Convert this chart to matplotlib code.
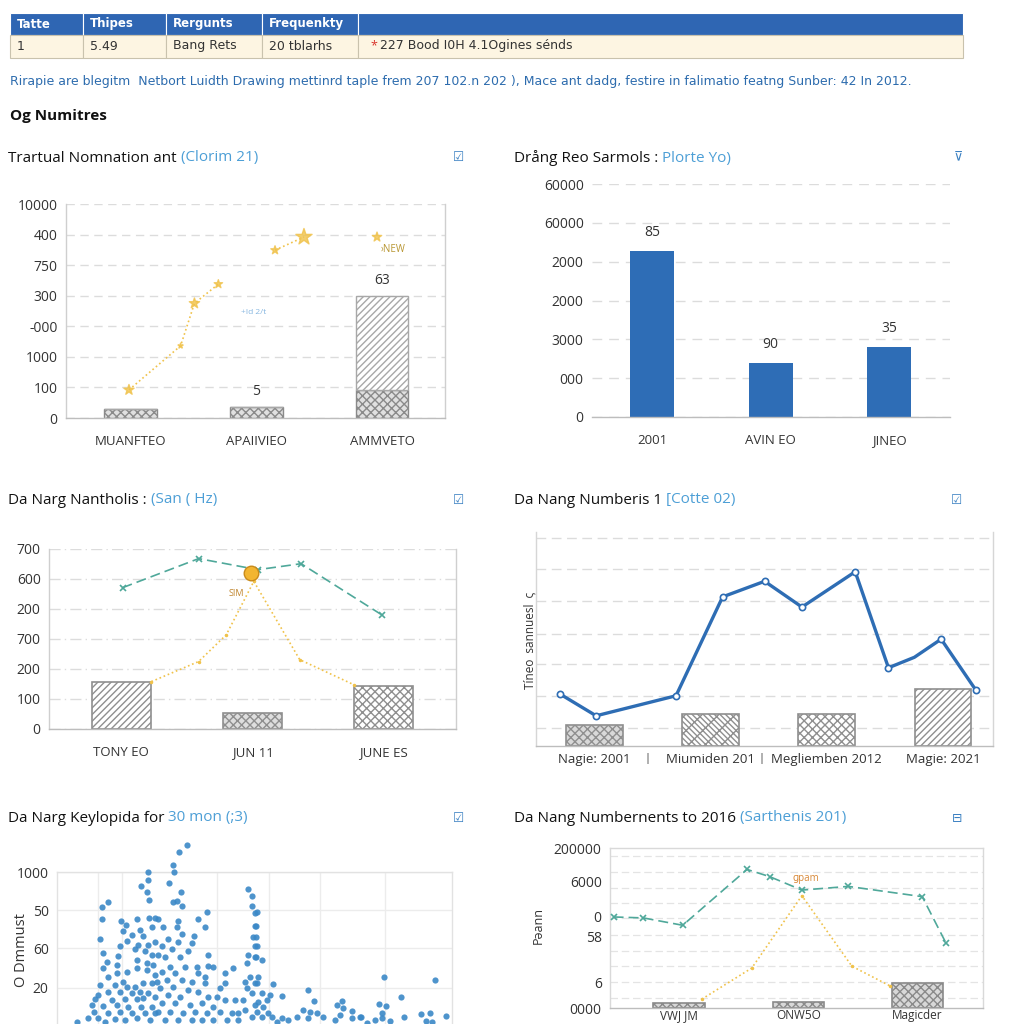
import matplotlib
matplotlib.use("Agg")
import matplotlib.pyplot as plt
from matplotlib.patches import Rectangle

plt.rcParams['font.family'] = ['Open Sans', 'DejaVu Sans']

# --- dati ---
TABLE_HEAD = ["Tatte", "Thipes", "Rergunts", "Frequenkty", ""]
TABLE_ROW = ["1", "5.49", "Bang Rets", "20 tblarhs", "227 Bood I0H 4.1Ogines sénds"]
NOTE = ("Rirapie are blegitm  Netbort Luidth Drawing mettinrd taple frem 207 102.n 202 ), "
        "Mace ant dadg, festire in falimatio featng Sunber: 42 In 2012.")
SECTION = "Og Numitres"

TITLES = [("Trartual Nomnation ant ", "(Clorim 21)"),
          ("Drång Reo Sarmols : ", "Plorte Yo)"),
          ("Da Narg Nantholis : ", "(San ( Hz)"),
          ("Da Nang Numberis 1 ", "[Cotte 02)"),
          ("Da Narg Keylopida for ", "30 mon (;3)"),
          ("Da Nang Numbernents to 2016 ", "(Sarthenis 201)")]
ICONS = ["☑", "⊽", "☑", "☑", "☑", "⊟"]

# pannello 1
p1_cats = ["MUANFTEO", "APAIIVIEO", "AMMVETO"]
p1_ticks = ["0", "100", "1000", "-000", "300", "750", "400", "10000"]
p1_base = [0.30, 0.37, 0.90]
p1_upper = [0.0, 0.0, 3.09]
p1_labels = ["", "5", "63"]
p1_star_x = [-0.01, 0.40, 0.51, 0.70, 1.15, 1.38, 1.96]
p1_star_y = [0.92, 2.36, 3.75, 4.38, 5.49, 5.92, 5.92]

# pannello 2
p2_cats = ["2001", "AVIN EO", "JINEO"]
p2_vals = [4.28, 1.40, 1.81]
p2_labels = ["85", "90", "35"]
p2_ticks = ["0", "000", "3000", "2000", "2000", "60000", "60000"]

# pannello 3
p3_cats = ["TONY EO", "JUN 11", "JUNE ES"]
p3_bars = [1.57, 0.53, 1.44]
p3_ticks = ["0", "100", "200", "700", "200", "600", "700"]
p3_teal_x = [0.01, 0.59, 1.04, 1.37, 1.99]
p3_teal_y = [4.71, 5.68, 5.31, 5.51, 3.79]
p3_yel_x = [0.23, 0.59, 0.80, 1.01, 1.36, 1.77]
p3_yel_y = [1.58, 2.25, 3.14, 4.92, 2.31, 1.48]
p3_peak = (0.99, 5.21)

# pannello 4
p4_cats = ["Nagie: 2001", "Miumiden 201", "Megliemben 2012", "Magie: 2021"]
p4_bars = [0.66, 1.0, 1.0, 1.79]
p4_x = [-0.296, 0.017, 0.704, 1.105, 1.466, 1.787, 2.245, 2.531, 2.754, 2.984, 3.282]
p4_y = [1.64, 0.95, 1.58, 4.69, 5.18, 4.37, 5.48, 2.46, 2.79, 3.36, 1.76]
p4_grid = [0.57, 1.57, 2.58, 3.52, 4.56, 5.57, 6.54]

# pannello 5 (scatter)
p5_x = [91, 91, 84, 90, 92, 51, 45, 45, 64, 80, 92, 98, 69, 66, 83, 95, 75, 86, 43, 70,
        63, 81, 91, 98, 46, 61, 78, 88, 95, 50, 80, 90, 96, 60, 46, 60, 70, 80, 90, 51,
        98, 66, 58, 43, 70, 78, 86, 95, 100, 51, 63, 75, 83, 91, 41, 38, 55, 68, 80, 86,
        98, 35, 46, 60, 71, 84, 95, 37, 51, 63, 75, 88, 98, 31, 41, 58, 68, 80, 93, 20,
        48,
        130, 122, 116, 117, 112, 124, 120, 125, 116, 150, 141, 121, 101, 120, 148, 106, 125, 137, 111, 121,
        135, 105, 115, 131, 151, 108, 123, 101, 113, 128, 140, 151, 156, 105, 118, 141, 148, 168, 176, 110,
        125, 135, 148, 163, 168, 116, 103, 131, 141, 111, 123, 151, 160, 178, 168, 105, 118, 133, 145, 156,
        101, 113, 126, 138, 150, 163, 175, 108, 121, 135, 145, 156, 170, 181,
        191, 195, 195, 198, 198, 196, 198, 191, 198, 190, 193, 188, 198, 190, 195, 186, 198, 188, 181, 195,
        200, 199, 199, 200, 199, 205, 201, 200, 216, 205, 213, 210, 225, 201, 206, 200, 211, 205, 215, 225,
        220, 231, 240, 246, 251, 257, 253, 260, 266, 251, 278, 280, 285, 286, 283, 295, 295, 303,
        327, 378, 344, 322, 329, 325, 304, 318, 325, 333, 347, 364, 373, 369, 389, 310, 375]
p5_y = [153, 145, 139, 133, 125, 123, 118, 106, 104, 106, 107, 107, 100, 94, 95, 98, 90, 89, 86, 84,
        79, 80, 80, 83, 73, 70, 76, 74, 71, 64, 66, 63, 61, 61, 58, 53, 54, 58, 56, 49,
        51, 44, 41, 41, 39, 39, 43, 43, 44, 34, 34, 33, 34, 33, 31, 27, 26, 27, 27, 28,
        29, 21, 20, 21, 19, 19, 19, 14, 13, 14, 13, 13, 13, 8, 8, 7, 6, 8, 6, 4,
        4,
        180, 173, 160, 153, 142, 133, 124, 119, 123, 113, 106, 104, 106, 98, 98, 98, 91, 89, 86, 83,
        82, 79, 76, 74, 71, 69, 69, 71, 59, 59, 59, 60, 59, 54, 53, 53, 49, 53, 58, 46,
        46, 44, 43, 38, 43, 39, 38, 36, 34, 31, 29, 29, 29, 26, 26, 23, 23, 21, 23, 19,
        14, 14, 13, 14, 13, 14, 13, 6, 6, 6, 6, 6, 6, 6,
        136, 129, 119, 112, 99, 88, 79, 71, 69, 63, 49, 44, 43, 38, 33, 26, 21, 16, 13, 9,
        113, 99, 88, 79, 69, 66, 49, 43, 42, 33, 31, 26, 30, 24, 19, 14, 13, 9, 9, 8,
        4, 6, 9, 16, 36, 25, 14, 13, 9, 8, 6, 21, 25, 18, 11, 15, 8, 9,
        49, 46, 29, 22, 20, 13, 9, 6, 8, 5, 9, 12, 13, 5, 10, 3, 4]
p5_ticks_pos = [0, 38, 77, 115, 153]
p5_ticks = ["", "20", "60", "50", "1000"]

# pannello 6
p6_cats = ["VWJ JM", "ONW5O", "Magicder"]
p6_bars = [0.31, 0.39, 1.58]
p6_ticks_pos = [0, 1.58, 4.46, 5.69, 7.88, 10]
p6_ticks = ["0000", "6", "58", "0", "6000", "200000"]
p6_grid = [0.65, 1.6, 2.6, 3.55, 4.55, 5.6, 6.55, 7.5, 8.5, 9.5]
p6_teal_x = [-0.55, -0.30, 0.03, 0.57, 0.76, 1.03, 1.42, 2.04, 2.24]
p6_teal_y = [5.69, 5.63, 5.17, 8.66, 8.21, 7.37, 7.60, 6.96, 4.05]
p6_yel_x = [0.19, 0.61, 1.03, 1.45, 1.77]
p6_yel_y = [0.55, 2.50, 7.02, 2.61, 1.38]

# --- colori ---
BLU = '#2f66b3'
AZZURRO = '#4d9fd6'
TEAL = '#4fa89a'
GIALLO = '#f0c24a'
GRID = '#dcdcdc'
TXT = '#333333'

fig = plt.figure(figsize=(10.24, 10.24), dpi=100)
fig.patch.set_facecolor('white')

bg = fig.add_axes([0, 0, 1, 1])
bg.set_xlim(0, 1024)
bg.set_ylim(1024, 0)
bg.axis('off')

# --- tabella ---
cols = [10, 83, 166, 262, 358, 963]
for i in range(5):
    bg.add_patch(Rectangle((cols[i], 13), cols[i + 1] - cols[i], 22, fc=BLU, ec='white', lw=0.8))
    bg.add_patch(Rectangle((cols[i], 35), cols[i + 1] - cols[i], 23, fc='#fdf5e2', ec='#c9c2ad', lw=0.8))
    bg.text(cols[i] + 7, 24, TABLE_HEAD[i], color='white', fontsize=8.5, fontweight='bold',
            va='center', family=['Liberation Sans Narrow', 'DejaVu Sans Condensed'])
    xt = cols[i] + 7 if i < 4 else cols[i] + 22
    bg.text(xt, 46, TABLE_ROW[i], color=TXT, fontsize=9, va='center',
            family=['Liberation Sans Narrow', 'DejaVu Sans Condensed'])
bg.text(cols[4] + 12, 46, "*", color='#d9342b', fontsize=9, va='center')

bg.text(10, 82, NOTE, color='#2d6cae', fontsize=9, va='center',
        family=['Liberation Sans Narrow', 'DejaVu Sans Condensed'])
bg.text(10, 116, SECTION, color='#111111', fontsize=11, fontweight='bold', va='center')

# --- titoli pannelli ---
title_pos = [(8, 158), (514, 158), (8, 500), (514, 500), (8, 818), (514, 818)]
icon_pos = [(459, 157), (958, 157), (459, 500), (957, 500), (459, 818), (957, 818)]
for (t1, t2), (x, y), ic, (ix, iy) in zip(TITLES, title_pos, ICONS, icon_pos):
    tt = bg.text(x, y, t1, color='#111111', fontsize=11, va='center')
    bg.annotate(t2, xy=(1, 0), xycoords=tt, va='bottom', ha='left', color=AZZURRO, fontsize=11)
    bg.text(ix, iy, ic, color='#3a80c2', fontsize=9, ha='center', va='center',
            family=['DejaVu Sans'])


def box(l, t, r, b):
    return [l / 1024, 1 - b / 1024, (r - l) / 1024, (b - t) / 1024]


def stile(ax, spine_col='#cfcfcf'):
    ax.set_facecolor('none')
    for s in ax.spines.values():
        s.set_color(spine_col)
        s.set_linewidth(1)
    ax.spines['bottom'].set_color('#bdbdbd')
    ax.tick_params(length=0, labelsize=10, colors=TXT, pad=6)


# --- pannello 1 ---
ax1 = fig.add_axes(box(66, 204, 445, 418))
stile(ax1)
ax1.spines['top'].set_visible(False)
ax1.set_xlim(-0.51, 2.5)
ax1.set_ylim(0, 7)
ax1.set_yticks(range(len(p1_ticks)))
ax1.set_yticklabels(p1_ticks)
ax1.grid(axis='y', color=GRID, ls=(0, (6, 4)), lw=1)
ax1.set_axisbelow(True)
xs = range(len(p1_cats))
ax1.bar(xs, p1_base, width=0.42, color='#e0e0e0', edgecolor='#8a8a8a', hatch='xxxx', lw=1)
ax1.bar(xs, p1_upper, bottom=p1_base, width=0.42, color='white', edgecolor='#a8a8a8', hatch='/////', lw=1)
for x, b, u, lab in zip(xs, p1_base, p1_upper, p1_labels):
    ax1.text(x, b + u + 0.25, lab, ha='center', va='bottom', fontsize=10, color=TXT)
ax1.set_xticks(list(xs))
ax1.set_xticklabels(p1_cats, fontsize=9.5)
ax1.tick_params(axis='x', pad=12)
ax1.plot(p1_star_x[:4], p1_star_y[:4], ls=':', lw=1.2, color=GIALLO)
ax1.plot(p1_star_x[4:6], p1_star_y[4:6], ls=':', lw=1.2, color=GIALLO)
ax1.scatter(p1_star_x, p1_star_y, marker='*', s=[60, 15, 60, 40, 40, 150, 50], color=GIALLO,
            zorder=4, alpha=0.8)
ax1.text(p1_star_x[6] + 0.03, p1_star_y[6] - 0.4, "›NEW", color='#b89632', fontsize=7, va='center')
ax1.text(0.98, 3.46, "+Id 2/t", color='#86b6e0', fontsize=6, ha='center', va='center')

# --- pannello 2 ---
ax2 = fig.add_axes(box(592, 184, 950, 417))
stile(ax2)
for s in ['top', 'left', 'right']:
    ax2.spines[s].set_visible(False)
ax2.set_xlim(-0.505, 2.51)
ax2.set_ylim(0, 6)
ax2.set_yticks(range(len(p2_ticks)))
ax2.set_yticklabels(p2_ticks)
ax2.grid(axis='y', color=GRID, ls=(0, (7, 5)), lw=1)
ax2.set_axisbelow(True)
xs = range(len(p2_cats))
ax2.bar(xs, p2_vals, width=0.37, color='#2e6db6')
for x, v, lab in zip(xs, p2_vals, p2_labels):
    ax2.text(x, v + 0.28, lab, ha='center', va='bottom', fontsize=10, color=TXT)
ax2.set_xticks(list(xs))
ax2.set_xticklabels(p2_cats, fontsize=9.5)
ax2.tick_params(axis='x', pad=12)

# --- pannello 3 ---
ax3 = fig.add_axes(box(49, 549, 456, 729))
stile(ax3)
ax3.spines['top'].set_visible(False)
ax3.set_xlim(-0.55, 2.55)
ax3.set_ylim(0, 6)
ax3.set_yticks(range(len(p3_ticks)))
ax3.set_yticklabels(p3_ticks)
ax3.grid(axis='y', color=GRID, ls=(0, (8, 3, 1, 3)), lw=1)
ax3.set_axisbelow(True)
xs = range(len(p3_cats))
ax3.bar(xs, p3_bars, width=0.45, color=['white', '#dedede', 'white'], edgecolor='#8f8f8f',
        hatch='/////', lw=1.2)
ax3.patches[1].set_hatch('xxxx')
ax3.patches[2].set_hatch('\\\\\\\\////')
ax3.set_xticks(list(xs))
ax3.set_xticklabels(p3_cats, fontsize=9.5)
ax3.tick_params(axis='x', pad=12)
ax3.plot(p3_teal_x, p3_teal_y, ls=(0, (6, 3)), lw=1.2, color=TEAL, marker='x', ms=4, mew=1.2)
ax3.plot(p3_yel_x, p3_yel_y, ls=':', lw=1.2, color=GIALLO, marker='.', ms=3)
ax3.scatter([p3_peak[0]], [p3_peak[1]], s=110, color='#f2b531', edgecolor='#c98a1a', zorder=5)
ax3.text(0.88, 4.5, "SIM", color='#c0842c', fontsize=6.5, ha='center', va='center')

# --- pannello 4 ---
ax4 = fig.add_axes(box(536, 532, 993, 746))
stile(ax4, '#d6d6d6')
ax4.spines['top'].set_visible(False)
ax4.set_xlim(-0.5, 3.43)
ax4.set_ylim(0, 6.73)
ax4.set_yticks(p4_grid)
ax4.set_yticklabels([])
ax4.grid(axis='y', color=GRID, ls=(0, (7, 4)), lw=1)
ax4.set_axisbelow(True)
xs = range(len(p4_cats))
ax4.bar(xs, p4_bars, width=0.49, color=['#d8d8d8', 'white', 'white', 'white'], edgecolor='#8f8f8f',
        hatch='/////', lw=1.2)
ax4.patches[0].set_hatch('xxxx')
ax4.patches[1].set_hatch('\\\\\\\\xx')
ax4.patches[2].set_hatch('\\\\\\\\////')
ax4.set_xticks(list(xs))
ax4.set_xticklabels(p4_cats, fontsize=9.5)
ax4.tick_params(axis='x', pad=5)
mk = [i for i in range(len(p4_x)) if i != 8]
ax4.plot(p4_x, p4_y, color='#2e6db4', lw=2.4, marker='o', ms=4.5, mfc='white', mew=1.2,
         markevery=mk, clip_on=False, zorder=4)
for sx in [0.46, 1.44]:
    ax4.text(sx, -0.38, "|", ha='center', va='center', fontsize=8, color=TXT, clip_on=False)
bg.text(530, 640, "Tíneo  sannuesl  ς", rotation=90, fontsize=8.5, color=TXT, ha='center', va='center')

# --- pannello 5 ---
ax5 = fig.add_axes(box(57, 872, 452, 1032))
stile(ax5, '#e2e2e2')
ax5.spines['bottom'].set_visible(False)
ax5.set_xlim(0, 395)
ax5.set_ylim(-6, 153)
ax5.set_yticks(p5_ticks_pos)
ax5.set_yticklabels(p5_ticks)
ax5.set_xticks([41, 65, 160, 212, 263, 328])
ax5.set_xticklabels([])
ax5.grid(color='#ececec', lw=1)
ax5.set_axisbelow(True)
ax5.scatter(p5_x, p5_y, s=20, color='#3b88c7', alpha=0.9, lw=0, clip_on=False, zorder=3)
bg.text(22, 950, "O Dmmust", rotation=90, fontsize=10.5, color=TXT, ha='center', va='center')

# --- pannello 6 ---
ax6 = fig.add_axes(box(610, 848, 983, 1008))
stile(ax6, '#d9d9d9')
ax6.set_xlim(-0.58, 2.55)
ax6.set_ylim(0, 10)
ax6.set_yticks(p6_ticks_pos)
ax6.set_yticklabels(p6_ticks)
for g in p6_grid:
    ax6.axhline(g, color='#e4e4e4', ls=(0, (6, 3)), lw=0.9, zorder=0)
xs = range(len(p6_cats))
ax6.bar(xs, p6_bars, width=0.43, color='#d8d8d8', edgecolor='#8a8a8a', hatch='xxxx', lw=1.2, zorder=2)
ax6.set_xticks(list(xs))
ax6.set_xticklabels(p6_cats, fontsize=8.5)
ax6.tick_params(axis='x', pad=1)
ax6.plot(p6_teal_x, p6_teal_y, ls=(0, (6, 3)), lw=1.2, color=TEAL, marker='x', ms=4, mew=1.2, zorder=3)
ax6.plot(p6_yel_x, p6_yel_y, ls=':', lw=1.2, color=GIALLO, marker='.', ms=3, zorder=3)
ax6.text(1.06, 8.1, "ɡpam", color='#d98a3a', fontsize=7, ha='center', va='center')
bg.text(538, 925, "Pəann", rotation=90, fontsize=9, color=TXT, ha='center', va='center')

fig.savefig("out.png", dpi=100)
